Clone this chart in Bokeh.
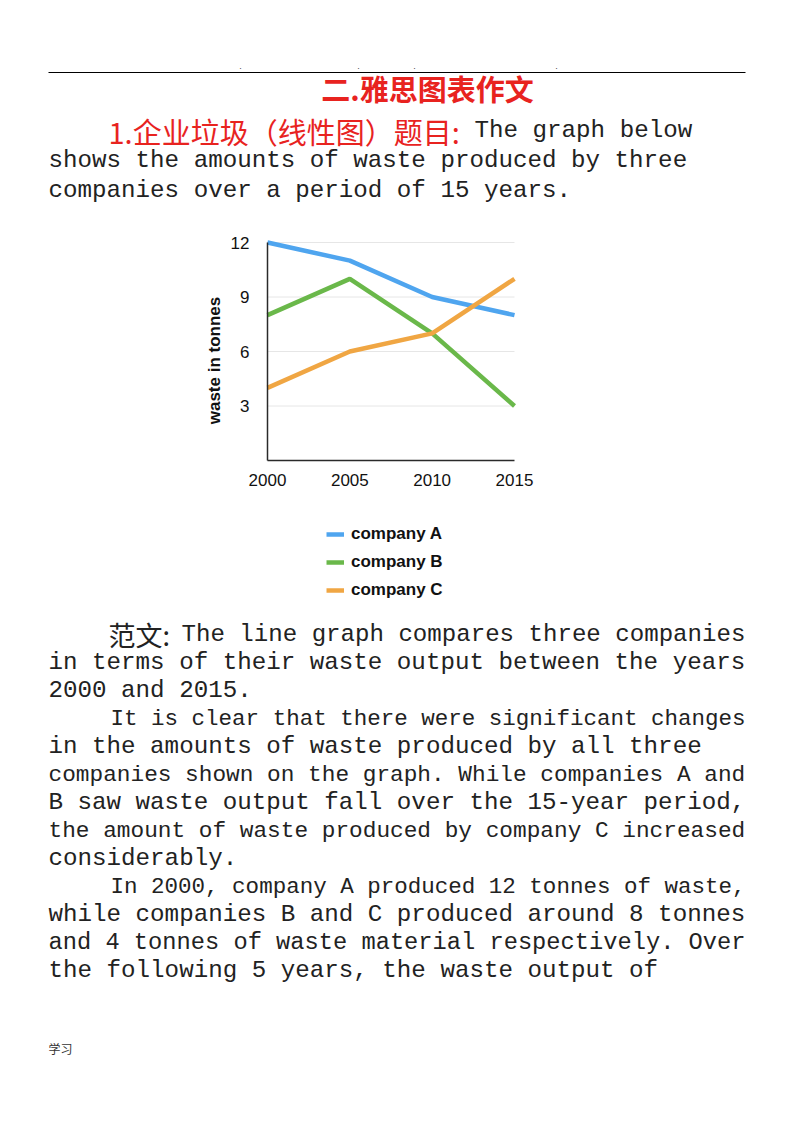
import math
from bokeh.plotting import figure
from bokeh.models import (Range1d, Legend, LegendItem, ColumnDataSource, LinearAxis,
                          FixedTicker)
from bokeh.embed import file_html
from bokeh.resources import INLINE
from bokeh.core.properties import value

# ---------------- data ----------------
years = [2000, 2005, 2010, 2015]
company_a = [12, 11, 9, 8]
company_b = [8, 10, 7, 3]
company_c = [4, 6, 7, 10]
series_names = ["company A", "company B", "company C"]
y_ticks = [3, 6, 9, 12]
y_label = "waste in tonnes"

title_text = "二.雅思图表作文"
prompt_cn = "1.企业垃圾（线性图）题目:"
prompt_lines = ["The graph below",
                "shows the amounts of waste produced by three",
                "companies over a period of 15 years."]
essay_cn = "范文:"
essay_lines = [
    "The line graph compares three companies",
    "in terms of their waste output between the years",
    "2000 and 2015.",
    "It is clear that there were significant changes",
    "in the amounts of waste produced by all three",
    "companies shown on the graph. While companies A and",
    "B saw waste output fall over the 15-year period,",
    "the amount of waste produced by company C increased",
    "considerably.",
    "In 2000, company A produced 12 tonnes of waste,",
    "while companies B and C produced around 8 tonnes",
    "and 4 tonnes of waste material respectively. Over",
    "the following 5 years, the waste output of",
]
footer_text = "学习"

# ---------------- styles / layout ----------------
RED = "#e8231f"
INK = "#222222"
MONO = value("Liberation Mono")
CJK = value("Noto Sans CJK SC")
SANS = value("Liberation Sans")
COLORS = ["#4fa5ef", "#6ab84a", "#f0a643"]
BASE = 24.2
LEFT, RIGHT = 48, 745

PAGE_W = 790
BORDER_L, BORDER_B = 40, 45
FRAME_W = PAGE_W - BORDER_L
FRAME_H = 1065

# chart plot-area in page pixels
PL, PR, PT, PB = 267, 514, 242, 460
x0d, x1d = years[0], years[-1]
y0d, y1d = 0, 12
kx = (PR - PL) / (x1d - x0d)
ky = (PB - PT) / (y1d - y0d)
cx_range = Range1d(x0d - (PL - BORDER_L) / kx, x1d + (BORDER_L + FRAME_W - PR) / kx)
cy_range = Range1d(y0d - (FRAME_H - PB) / ky, y1d + PT / ky)

p = figure(frame_width=FRAME_W, frame_height=FRAME_H,
           x_range=Range1d(BORDER_L, PAGE_W), y_range=Range1d(FRAME_H, 0),
           x_axis_location=None, y_axis_location=None,
           min_border_left=BORDER_L, min_border_right=0, min_border_top=0,
           min_border_bottom=BORDER_B,
           toolbar_location=None, output_backend="svg")
p.grid.visible = False
p.outline_line_color = None
p.background_fill_color = "white"
p.border_fill_color = "white"
p.extra_x_ranges = {"cx": cx_range}
p.extra_y_ranges = {"cy": cy_range}


def mono_lines(texts, xs, ys, justify):
    sizes = []
    for t, x0, j in zip(texts, xs, justify):
        s = (RIGHT - x0) / (len(t) * 0.6) if j else BASE
        sizes.append("%.2fpx" % s)
    src = ColumnDataSource(dict(x=xs, y=ys, text=texts, size=sizes))
    p.text(x="x", y="y", text="text", text_font_size="size", source=src,
           text_font=MONO, text_color=INK, text_baseline="middle", text_align="left")


# ---------------- header ----------------
p.segment(x0=[LEFT], y0=[72], x1=[RIGHT], y1=[72], line_color="black", line_width=1)
p.text(x=[240, 358, 414, 556], y=[68] * 4, text=["."] * 4, text_font_size="9px",
       text_color="#444", text_align="center", text_baseline="bottom")
p.text(x=[427], y=[87], text=[title_text], text_font=CJK, text_font_size="29px",
       text_font_style="bold", text_color=RED, text_align="center", text_baseline="middle")
p.text(x=[108], y=[130], text=[prompt_cn], text_font=CJK, text_font_size="29px",
       text_color=RED, text_align="left", text_baseline="middle")
mono_lines(prompt_lines, [474, LEFT, LEFT], [130, 160, 190], [False, False, False])

# ---------------- chart ----------------
# horizontal gridlines, limited to the plot area
p.segment(x0=[x0d] * len(y_ticks), x1=[x1d] * len(y_ticks), y0=y_ticks, y1=y_ticks,
          line_color="#e6e6e6", line_width=1, x_range_name="cx", y_range_name="cy")

xax = LinearAxis(x_range_name="cx", y_range_name="cy", fixed_location=y0d,
                 bounds=(x0d, x1d), ticker=FixedTicker(ticks=years))
yax = LinearAxis(x_range_name="cx", y_range_name="cy", fixed_location=x0d,
                 bounds=(y0d, y1d), ticker=FixedTicker(ticks=y_ticks))
for ax in (xax, yax):
    ax.major_tick_line_color = None
    ax.minor_tick_line_color = None
    ax.axis_line_color = "#2a2a2a"
    ax.axis_line_width = 1.5
    ax.major_label_text_font = "Liberation Sans"
    ax.major_label_text_font_size = "17px"
    ax.major_label_text_color = "#111111"
xax.major_label_standoff = 7
yax.major_label_standoff = 12
p.add_layout(xax, "below")
p.add_layout(yax, "left")

p.text(x=[214], y=[360], text=[y_label], angle=math.pi / 2, text_font=SANS,
       text_font_size="17px", text_font_style="bold", text_color="#111111",
       text_align="center", text_baseline="middle")

rends = []
for vals, col in zip([company_a, company_b, company_c], COLORS):
    r = p.line(years, vals, line_color=col, line_width=4.5,
               x_range_name="cx", y_range_name="cy")
    rends.append(r)

leg = Legend(items=[LegendItem(label=n, renderers=[r]) for n, r in zip(series_names, rends)],
             location=(286, 465), border_line_color=None, background_fill_alpha=0,
             label_text_font="Liberation Sans", label_text_font_style="bold",
             label_text_font_size="17px", label_text_color="#111111",
             glyph_width=18, glyph_height=20, label_height=20, spacing=8,
             padding=5, label_standoff=7, margin=0)
p.add_layout(leg, "center")

# ---------------- body ----------------
p.text(x=[108], y=[634], text=[essay_cn], text_font=CJK, text_font_size="27px",
       text_color=INK, text_align="left", text_baseline="middle")
xs = [181, LEFT, LEFT, 110, LEFT, LEFT, LEFT, LEFT, LEFT, 110, LEFT, LEFT, LEFT]
ys = [634 + 28 * i for i in range(len(essay_lines))]
just = [True, True, False, True, False, True, True, True, False, True, True, True, False]
mono_lines(essay_lines, xs, ys, just)
p.text(x=[LEFT], y=[1048], text=[footer_text], text_font=CJK, text_font_size="12px",
       text_color="#333333", text_align="left", text_baseline="middle")

open("out.html", "w").write(file_html(p, INLINE))
